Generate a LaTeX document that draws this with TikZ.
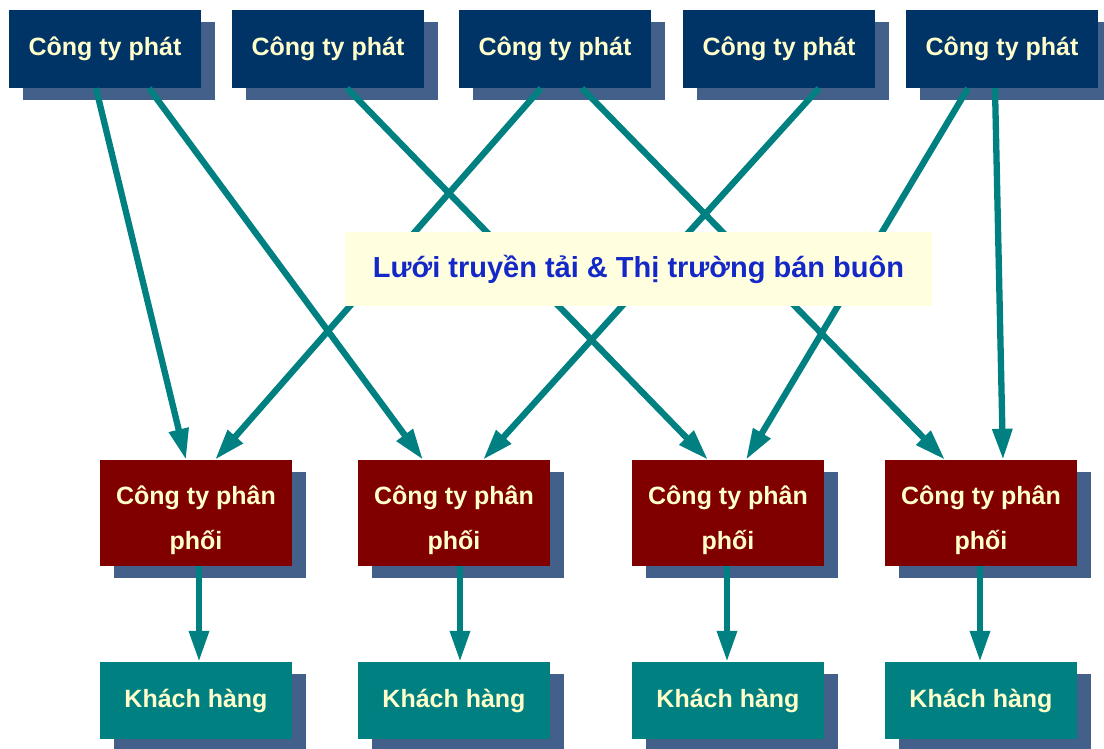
\documentclass[tikz,border=0pt]{standalone}
\usepackage{fontspec}
\setmainfont{Liberation Sans}
\usetikzlibrary{arrows.meta,shadows}
\definecolor{navy}{HTML}{003366}
\definecolor{shade}{HTML}{426089}
\definecolor{maroon}{HTML}{800000}
\definecolor{tealc}{HTML}{008080}
\definecolor{cream}{HTML}{FFFFCC}
\definecolor{paleyellow}{HTML}{FFFFE0}
\definecolor{netblue}{HTML}{1428C8}
% strut that lowers the two-line labels inside the distributor boxes
\newcommand{\lowstrut}{\rule{0pt}{34pt}}
\tikzset{
  boxbase/.style={inner sep=0pt, text=cream, font=\bfseries\fontsize{25}{45}\selectfont,
    align=center, drop shadow={shadow xshift=14pt, shadow yshift=-12pt, fill=shade, opacity=1}},
  genbox/.style={boxbase, fill=navy, minimum width=192pt, minimum height=78pt},
  distbox/.style={boxbase, fill=maroon, minimum width=192pt, minimum height=106pt},
  custbox/.style={boxbase, fill=tealc, minimum width=192pt, minimum height=77pt},
  netbox/.style={fill=paleyellow, inner sep=0pt, minimum width=587pt, minimum height=74pt,
    text=netblue, font=\bfseries\fontsize{29}{34}\selectfont},
  flow/.style={draw=tealc, line width=6.3pt, -{Triangle[length=31pt,width=19pt]}}
}
\begin{document}
\begin{tikzpicture}[x=1pt,y=-1pt]
\useasboundingbox (0,0) rectangle (1104,748);
% generating companies
\node[genbox] (g1) at (105,49)  {Công ty phát};
\node[genbox] (g2) at (328,49)  {Công ty phát};
\node[genbox] (g3) at (555,49)  {Công ty phát};
\node[genbox] (g4) at (779,49)  {Công ty phát};
\node[genbox] (g5) at (1002,49) {Công ty phát};
% distribution companies
\node[distbox] (d1) at (196,513) {\lowstrut Công ty phân\\phối};
\node[distbox] (d2) at (454,513) {\lowstrut Công ty phân\\phối};
\node[distbox] (d3) at (728,513) {\lowstrut Công ty phân\\phối};
\node[distbox] (d4) at (981,513) {\lowstrut Công ty phân\\phối};
% customers
\node[custbox] (c1) at (196,700.5) {Khách hàng};
\node[custbox] (c2) at (454,700.5) {Khách hàng};
\node[custbox] (c3) at (728,700.5) {Khách hàng};
\node[custbox] (c4) at (981,700.5) {Khách hàng};
% power flows from generators to distributors
\draw[flow] ([xshift=-9pt]g1.south)  -- ([xshift=-10pt]d1.north);
\draw[flow] ([xshift=44pt]g1.south)  -- ([xshift=-31pt]d2.north);
\draw[flow] ([xshift=19pt]g2.south)  -- ([xshift=-20pt]d3.north);
\draw[flow] ([xshift=-14pt]g3.south) -- ([xshift=19pt]d1.north);
\draw[flow] ([xshift=27pt]g3.south)  -- ([xshift=-36pt]d4.north);
\draw[flow] ([xshift=40pt]g4.south)  -- ([xshift=29pt]d2.north);
\draw[flow] ([xshift=-34pt]g5.south) -- ([xshift=18pt]d3.north);
\draw[flow] ([xshift=-7pt]g5.south)  -- ([xshift=22pt]d4.north);
% distributors to customers
\draw[flow] ([xshift=3pt]d1.south)  -- ([xshift=3pt]c1.north);
\draw[flow] ([xshift=6pt]d2.south)  -- ([xshift=6pt]c2.north);
\draw[flow] ([xshift=-1pt]d3.south) -- ([xshift=-1pt]c3.north);
\draw[flow] ([xshift=-1pt]d4.south) -- ([xshift=-1pt]c4.north);
% transmission grid and wholesale market
\node[netbox] (net) at (638.5,269) {Lưới truyền tải \& Thị trường bán buôn};
\end{tikzpicture}
\end{document}
